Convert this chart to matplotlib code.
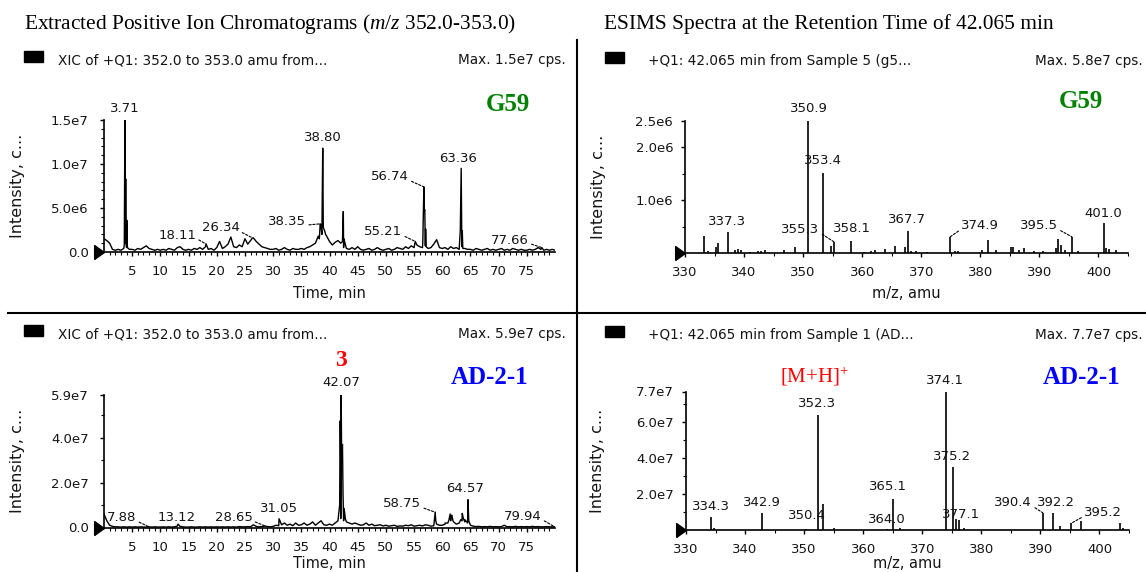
import numpy as np
import matplotlib
matplotlib.use("Agg")
import matplotlib.pyplot as plt
from matplotlib.patches import Rectangle
from matplotlib.lines import Line2D
from matplotlib.transforms import offset_copy

# ---------------------------------------------------------------- data
# XIC baseline sampled every 0.5 min from 0 to 80 min
xic_time_grid = np.arange(0.0, 80.01, 0.5)

# G59 extracted ion chromatogram (x1e6 cps)
g59_xic_base = [
    1.5, 1.3, 1.0, 0.3, 0.2, 0.3, 0.2, 0.4, 0.5, 0.3,
    0.3, 0.2, 0.4, 0.3, 0.5, 0.7, 0.4, 0.3, 0.2, 0.3,
    0.2, 0.3, 0.2, 0.4, 0.3, 0.2, 0.5, 0.6, 0.3, 0.2,
    0.3, 0.2, 0.4, 0.3, 0.5, 0.3, 0.6, 0.3, 0.4, 0.2,
    0.5, 1.2, 0.4, 0.6, 0.9, 1.7, 0.6, 0.5, 0.8, 0.6,
    1.5, 0.9, 1.3, 1.6, 1.2, 0.9, 0.6, 0.5, 0.4, 0.3,
    0.3, 0.4, 0.2, 0.3, 0.5, 0.3, 0.2, 0.4, 0.3, 0.3,
    0.4, 0.3, 0.5, 0.6, 0.8, 1.0, 1.8, 3.0, 2.6, 1.8,
    1.2, 0.8, 1.1, 1.3, 1.0, 0.5, 0.4, 0.3, 0.5, 0.3,
    0.6, 0.3, 0.2, 0.3, 0.4, 0.2, 0.3, 0.5, 0.3, 0.2,
    0.3, 0.4, 0.2, 0.3, 0.5, 0.4, 0.3, 0.6, 0.4, 0.7,
    0.5, 0.8, 0.6, 0.5, 0.7, 0.4, 0.5, 0.9, 1.4, 0.5,
    0.4, 0.5, 0.3, 0.6, 0.4, 0.5, 0.3, 0.6, 0.4, 0.3,
    0.3, 0.2, 0.4, 0.3, 0.2, 0.3, 0.4, 0.2, 0.3, 0.2,
    0.3, 0.4, 0.2, 0.3, 0.2, 0.4, 0.3, 0.2, 0.3, 0.2,
    0.2, 0.3, 0.2, 0.3, 0.5, 0.3, 0.2, 0.3, 0.2, 0.3,
    0.2]
g59_xic_peak_time = [3.6, 3.71, 3.76, 3.85, 3.95, 4.05, 4.15, 18.11, 26.34,
                     38.2, 38.35, 38.65, 38.80, 38.9, 39.1, 39.3,
                     42.3, 42.45, 42.55, 55.21,
                     56.55, 56.65, 56.74, 56.8, 56.9, 57.05, 57.15,
                     63.2, 63.36, 63.45, 63.55, 63.65, 77.66]
g59_xic_peak_int = [0.8, 15.0, 1.0, 8.3, 0.8, 3.6, 0.5, 0.9, 1.6,
                    1.5, 3.2, 2.0, 11.8, 2.8, 2.5, 2.0,
                    1.2, 4.6, 1.5, 1.2,
                    1.2, 4.3, 7.4, 4.6, 4.8, 2.6, 0.6,
                    2.5, 9.5, 2.5, 2.4, 0.4, 0.5]

# AD-2-1 extracted ion chromatogram (x1e7 cps)
ad_xic_base = [
    0.6, 0.3, 0.1, 0.05, 0.03, 0.03, 0.02, 0.03, 0.02, 0.03,
    0.02, 0.03, 0.02, 0.03, 0.02, 0.02, 0.03, 0.02, 0.03, 0.02,
    0.02, 0.03, 0.02, 0.03, 0.02, 0.03, 0.06, 0.05, 0.03, 0.02,
    0.02, 0.03, 0.02, 0.02, 0.03, 0.02, 0.03, 0.02, 0.03, 0.02,
    0.03, 0.02, 0.03, 0.02, 0.03, 0.02, 0.03, 0.02, 0.04, 0.03,
    0.03, 0.04, 0.03, 0.12, 0.05, 0.03, 0.04, 0.06, 0.04, 0.03,
    0.05, 0.1, 0.08, 0.12, 0.2, 0.1, 0.15, 0.08, 0.2, 0.1,
    0.12, 0.2, 0.1, 0.15, 0.25, 0.1, 0.2, 0.3, 0.12, 0.1,
    0.15, 0.1, 0.2, 0.3, 0.4, 0.3, 0.25, 0.2, 0.15, 0.2,
    0.15, 0.1, 0.12, 0.2, 0.1, 0.15, 0.08, 0.1, 0.12, 0.07,
    0.1, 0.06, 0.08, 0.1, 0.05, 0.07, 0.06, 0.1, 0.08, 0.12,
    0.06, 0.08, 0.1, 0.07, 0.12, 0.1, 0.06, 0.08, 0.15, 0.1,
    0.1, 0.15, 0.2, 0.3, 0.25, 0.15, 0.2, 0.3, 0.25, 0.2,
    0.1, 0.06, 0.04, 0.05, 0.03, 0.04, 0.03, 0.05, 0.03, 0.04,
    0.03, 0.04, 0.1, 0.03, 0.04, 0.03, 0.05, 0.03, 0.04, 0.03,
    0.04, 0.03, 0.05, 0.03, 0.04, 0.03, 0.03, 0.04, 0.03, 0.03,
    0.03]
ad_xic_peak_time = [7.88, 13.12, 28.65, 31.05,
                    41.8, 41.9, 41.98, 42.07, 42.15, 42.3, 42.4, 42.6, 42.8,
                    58.75, 58.85, 60.5, 61.2, 61.4, 61.55, 61.7, 61.9,
                    63.3, 63.55, 63.75, 64.0, 64.57, 64.7, 79.94]
ad_xic_peak_int = [0.04, 0.15, 0.06, 0.39,
                   1.0, 4.75, 3.0, 5.9, 3.2, 3.7, 1.5, 0.85, 0.4,
                   0.68, 0.3, 0.2, 0.35, 0.6, 0.5, 0.55, 0.3,
                   0.35, 0.63, 0.4, 0.35, 1.24, 0.3, 0.03]

# ESI-MS spectra at 42.065 min
g59_ms_mz = [333.3, 333.9, 335.2, 335.6, 337.3, 338.5, 338.9, 339.4, 341.0, 342.3,
             342.8, 343.5, 346.8, 348.6, 350.9, 353.4, 354.8, 355.3, 358.1, 360.3,
             361.5, 362.2, 363.9, 365.5, 367.3, 367.7, 368.2, 369.1, 371.0, 374.9,
             375.7, 376.3, 380.3, 381.3, 382.7, 385.2, 385.6, 386.6, 387.4, 389.1,
             390.6, 392.8, 393.2, 393.6, 394.3, 395.5, 396.5, 401.0, 401.3, 401.7,
             402.9]
g59_ms_int = [0.33, 0.04, 0.12, 0.19, 0.40, 0.07, 0.08, 0.06, 0.03, 0.04,
              0.04, 0.06, 0.06, 0.11, 2.50, 1.52, 0.13, 0.21, 0.24, 0.03,
              0.05, 0.07, 0.09, 0.13, 0.12, 0.43, 0.05, 0.04, 0.03, 0.31,
              0.05, 0.04, 0.07, 0.25, 0.06, 0.12, 0.12, 0.06, 0.10, 0.04,
              0.05, 0.10, 0.27, 0.15, 0.06, 0.31, 0.05, 0.57, 0.10, 0.08,
              0.06]  # x1e6
ad_ms_mz = [334.3, 334.8, 342.9, 350.4, 352.3, 353.2, 355.0, 364.0, 365.1, 366.3,
            374.1, 375.2, 375.7, 376.2, 377.1, 390.4, 392.2, 393.3, 395.2, 396.8,
            403.5, 404.0]
ad_ms_int = [0.70, 0.10, 0.96, 0.08, 6.40, 1.45, 0.10, 0.05, 1.75, 0.10,
             7.70, 3.50, 0.60, 0.55, 0.10, 0.96, 0.96, 0.20, 0.37, 0.52,
             0.37, 0.10]  # x1e7

# labelled peaks
g59_xic_labels = [3.71, 38.80, 63.36, 56.74, 55.21, 77.66, 38.35, 26.34, 18.11]
ad_xic_labels = [42.07, 64.57, 58.75, 79.94, 7.88, 13.12, 28.65, 31.05]
g59_ms_labels = [350.9, 353.4, 337.3, 355.3, 358.1, 367.7, 374.9, 395.5, 401.0]
ad_ms_labels = [352.3, 374.1, 375.2, 365.1, 334.3, 342.9, 350.4, 364.0, 377.1,
                390.4, 392.2, 395.2]

# ticks
xic_xticks = [5, 10, 15, 20, 25, 30, 35, 40, 45, 50, 55, 60, 65, 70, 75]
xic_xtick_labels = [str(v) for v in xic_xticks]
ms_xticks = [330, 340, 350, 360, 370, 380, 390, 400]
ms_xtick_labels = [str(v) for v in ms_xticks]
g59_xic_yticks = [0, 5, 10, 15]
g59_xic_ytick_labels = ["0.0", "5.0e6", "1.0e7", "1.5e7"]
ad_xic_yticks = [0, 2, 4, 5.9]
ad_xic_ytick_labels = ["0.0", "2.0e7", "4.0e7", "5.9e7"]
g59_ms_yticks = [1.0, 2.0, 2.5]
g59_ms_ytick_labels = ["1.0e6", "2.0e6", "2.5e6"]
ad_ms_yticks = [2, 4, 6, 7.7]
ad_ms_ytick_labels = ["2.0e7", "4.0e7", "6.0e7", "7.7e7"]

# texts
title_left = r"Extracted Positive Ion Chromatograms ($\mathit{m/z}$ 352.0-353.0)"
title_right = "ESIMS Spectra at the Retention Time of 42.065 min"
hdr_xic = "XIC of +Q1: 352.0 to 353.0 amu from..."
hdr_ms_g59 = "+Q1: 42.065 min from Sample 5 (g5..."
hdr_ms_ad = "+Q1: 42.065 min from Sample 1 (AD..."
max_tl, max_tr, max_bl, max_br = "Max. 1.5e7 cps.", "Max. 5.8e7 cps.", "Max. 5.9e7 cps.", "Max. 7.7e7 cps."

# ---------------------------------------------------------------- style
W, H, DPI = 1146, 572, 100
TXT = "#151515"
LBL = 9.5
plt.rcParams["font.family"] = ["DejaVu Sans"]
plt.rcParams["mathtext.fontset"] = "custom"
plt.rcParams["mathtext.rm"] = "Liberation Serif"
plt.rcParams["mathtext.it"] = "Liberation Serif:italic"
SERIF = "Liberation Serif"

fig = plt.figure(figsize=(W / DPI, H / DPI), dpi=DPI)
fig.patch.set_facecolor("white")


def fxy(x, y):
    return x / W, 1 - y / H


def px_axes(box):
    l, t, r, b = box
    return fig.add_axes([l / W, 1 - b / H, (r - l) / W, (b - t) / H])


BOX_TL = (104, 120, 555, 252)
BOX_BL = (104, 395, 555, 527.5)
BOX_TR = (685, 120.8, 1128, 253.3)
BOX_BR = (686, 391.5, 1129, 530)

TRI = [(-0.35, -0.5), (-0.35, 0.5), (0.35, 0.0), (-0.35, -0.5)]


def setup(ax, box, xlim, ylim, xt, xtl, xminor, yt, ytl, yminor, ypad, xlabel,
          ylabel_x, xlabel_gap):
    ax.set_xlim(*xlim)
    ax.set_ylim(*ylim)
    ax.patch.set_alpha(0)
    for s in ("top", "right"):
        ax.spines[s].set_visible(False)
    for s in ("left", "bottom"):
        ax.spines[s].set_linewidth(1.2)
        ax.spines[s].set_color("black")
    ax.set_xticks(xt)
    ax.set_xticklabels(xtl)
    ax.set_xticks(xminor, minor=True)
    ax.set_yticks(yt)
    ax.set_yticklabels(ytl)
    ax.set_yticks(yminor, minor=True)
    ax.tick_params(which="major", length=3, width=1.0, labelsize=LBL,
                   labelcolor=TXT, direction="out")
    ax.tick_params(which="minor", length=2, width=0.8, direction="out")
    ax.tick_params(axis="x", which="major", pad=6.5)
    ax.tick_params(axis="y", which="major", pad=ypad)
    l, t, r, b = box
    ax.set_xlabel(xlabel, fontsize=10.5, color=TXT)
    ax.xaxis.set_label_coords(0.5, -xlabel_gap / (b - t))
    ax.xaxis.label.set_va("center")
    ax.set_ylabel("Intensity, c...", fontsize=11.5, color=TXT)
    ax.yaxis.set_label_coords((ylabel_x - l) / (r - l), 0.5)
    ax.yaxis.label.set_va("center")
    tr = offset_copy(ax.transAxes, fig=fig, x=-5, y=0, units="dots")
    ax.plot([0], [0], marker=TRI, ms=10, color="black", transform=tr,
            clip_on=False, zorder=5)


def label_peaks(ax, xs, lookup, fmt, styles):
    for x, (dx, dy, lead) in zip(xs, styles):
        kw = {}
        if lead:
            rp = (1.0, 0.25) if lead == "r" else (0.0, 0.25)
            kw["arrowprops"] = dict(arrowstyle="-", color="black", lw=0.8,
                                    linestyle=(0, (2, 1.5)), shrinkA=0,
                                    shrinkB=0, relpos=rp)
        ax.annotate(fmt.format(x), xy=(x, lookup[x]), xytext=(dx, dy),
                    textcoords="offset pixels", ha="center", va="center",
                    fontsize=LBL, color=TXT, annotation_clip=False, **kw)


def xic_series(base, ptime, pint):
    t = np.concatenate([xic_time_grid, np.asarray(ptime, float)])
    y = np.concatenate([np.asarray(base, float), np.asarray(pint, float)])
    o = np.argsort(t, kind="stable")
    return t[o], y[o]


xic_minor = [v for v in range(1, 80) if v % 5]
ms_minor = [335, 345, 355, 365, 375, 385, 395, 405]

# ---------------- top-left: G59 XIC
ax = px_axes(BOX_TL)
t, y = xic_series(g59_xic_base, g59_xic_peak_time, g59_xic_peak_int)
ax.plot(t, y, color="black", lw=1.0)
setup(ax, BOX_TL, (0, 80), (0, 15), xic_xticks, xic_xtick_labels, xic_minor,
      g59_xic_yticks, g59_xic_ytick_labels, [1, 2, 3, 4, 6, 7, 8, 9, 11, 12, 13, 14],
      8, "Time, min", 18, 41)
label_peaks(ax, g59_xic_labels, dict(zip(g59_xic_peak_time, g59_xic_peak_int)), "{:.2f}",
            [(0, 12, None), (0, 11, None), (-3, 10, None), (-34, 10, "r"),
             (-32, 9.5, "r"), (-32, 7.6, "r"), (-33, 2, "r"), (-32, 10, "r"),
             (-29, 9, "r")])

# ---------------- bottom-left: AD-2-1 XIC
ax = px_axes(BOX_BL)
t, y = xic_series(ad_xic_base, ad_xic_peak_time, ad_xic_peak_int)
ax.plot(t, y, color="black", lw=1.0)
setup(ax, BOX_BL, (0, 80), (0, 5.9), xic_xticks, xic_xtick_labels, xic_minor,
      ad_xic_yticks, ad_xic_ytick_labels, [1, 3, 5], 8, "Time, min", 18, 36.5)
label_peaks(ax, ad_xic_labels, dict(zip(ad_xic_peak_time, ad_xic_peak_int)), "{:.2f}",
            [(0, 12.5, None), (-2.5, 11.5, None), (-33, 8.3, "r"), (-32, 10.8, "r"),
             (-26.7, 9, "r"), (-1, 7, None), (-32, 8.5, "r"), (0, 10.5, None)])
ax.annotate("3", xy=(42.07, 5.9), xytext=(0, 35), textcoords="offset pixels",
            ha="center", va="center", fontsize=17, fontweight="bold",
            family=SERIF, color="#ff0000", annotation_clip=False)

# ---------------- top-right: G59 spectrum
ax = px_axes(BOX_TR)
ax.vlines(g59_ms_mz, 0, g59_ms_int, color="black", lw=1.2)
setup(ax, BOX_TR, (330, 405), (0, 2.5), ms_xticks, ms_xtick_labels, ms_minor,
      g59_ms_yticks, g59_ms_ytick_labels, [0.5, 1.5], 5.5, "m/z, amu", 598, 40)
label_peaks(ax, g59_ms_labels, dict(zip(g59_ms_mz, g59_ms_int)), "{:.1f}",
            [(0, 12, None), (0, 12, None), (-1, 10.5, None), (-34, 13, "r"),
             (1, 12, None), (-1, 11, None), (30, 11, "l"), (-33, 11, "r"),
             (-1, 10, None)])

# ---------------- bottom-right: AD-2-1 spectrum
ax = px_axes(BOX_BR)
ax.vlines(ad_ms_mz, 0, ad_ms_int, color="black", lw=1.2)
setup(ax, BOX_BR, (330, 405), (0, 7.7), ms_xticks, ms_xtick_labels, ms_minor,
      ad_ms_yticks, ad_ms_ytick_labels, [1, 3, 5, 7], 5.5, "m/z, amu", 598, 34)
label_peaks(ax, ad_ms_labels, dict(zip(ad_ms_mz, ad_ms_int)), "{:.1f}",
            [(-1, 11.5, None), (-1.5, 11, None), (-1, 10.5, None), (-5.5, 12, None),
             (0, 11, None), (0, 10, None), (0, 13, None), (0, 10, None),
             (-3, 14, None), (-29.5, 10, "r"), (3, 10, None), (32, 10.5, "l")])

# ---------------- titles, headers, sample names
fig.text(*fxy(24, 29), title_left, fontsize=15.4, family=SERIF, color="black",
         ha="left", va="baseline")
fig.text(*fxy(604, 29), title_right, fontsize=15.4, family=SERIF, color="black",
         ha="left", va="baseline")

for (sx, sy, hdr, mx_text, hx, mxr) in [
        (24, 51, hdr_xic, max_tl, 58, 566),
        (24, 325, hdr_xic, max_bl, 58, 566),
        (605, 52, hdr_ms_g59, max_tr, 648, 1143),
        (605, 326, hdr_ms_ad, max_br, 648, 1143)]:
    fig.patches.append(Rectangle(fxy(sx, sy + 11), 19 / W, 11 / H,
                                 transform=fig.transFigure, color="black"))
    fig.text(*fxy(hx, sy + 9), hdr, fontsize=9.8, color=TXT, ha="left", va="center")
    fig.text(*fxy(mxr, sy + 9), mx_text, fontsize=9.8, color=TXT, ha="right", va="center")

for (x, y, s, c) in [(508, 104, "G59", "#008000"), (1081, 102, "G59", "#008000"),
                     (490, 378, "AD-2-1", "#0000ff"), (1082, 377, "AD-2-1", "#0000ff")]:
    fig.text(*fxy(x, y), s, fontsize=18, fontweight="bold", family=SERIF,
             color=c, ha="center", va="center")

fig.text(*fxy(815, 376), r"[M+H]$^{+}$", fontsize=15, family=SERIF,
         color="#ff0000", ha="center", va="center")

# divider lines
fig.add_artist(Line2D([577 / W, 577 / W], [1 - 40 / H, 0], transform=fig.transFigure,
                      color="black", lw=1.5))
fig.add_artist(Line2D([8 / W, 1], [1 - 313 / H, 1 - 313 / H], transform=fig.transFigure,
                      color="black", lw=1.5))

fig.savefig("out.png", dpi=DPI)
